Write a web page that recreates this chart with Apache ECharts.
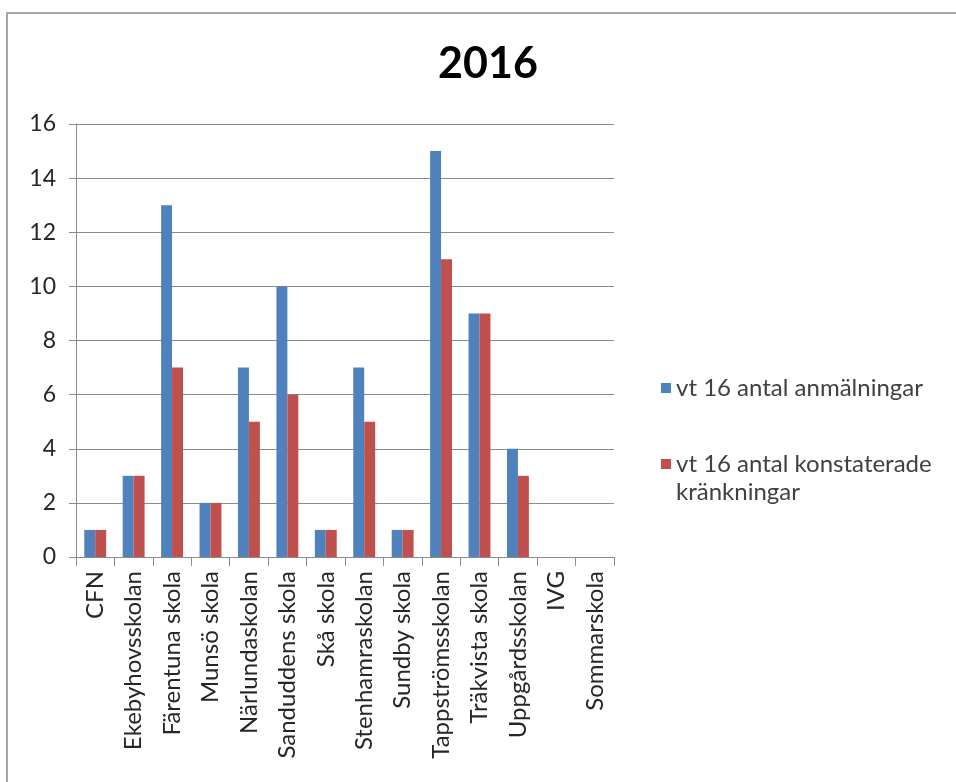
<!DOCTYPE html>
<html>
<head>
<meta charset="utf-8">
<script src="https://cdn.jsdelivr.net/npm/echarts@6/dist/echarts.min.js"></script>
<style>
html,body{margin:0;padding:0;background:#fff;overflow:hidden;width:956px;height:782px;}
#frame{position:absolute;left:6px;top:12px;right:-20px;bottom:-20px;border-left:2px solid #a8a8a8;border-top:2px solid #a8a8a8;}
#chart{position:absolute;left:0;top:0;width:956px;height:782px;}
</style>
</head>
<body>
<div id="frame"></div>
<div id="chart"></div>
<script>
const categories = ['CFN','Ekebyhovsskolan','Färentuna skola','Munsö skola','Närlundaskolan','Sanduddens skola','Skå skola','Stenhamraskolan','Sundby skola','Tappströmsskolan','Träkvista skola','Uppgårdsskolan','IVG','Sommarskola'];
const seriesNames = ['vt 16 antal anmälningar','vt 16 antal konstaterade kränkningar'];
const anmalningar = [1,3,13,2,7,10,1,7,1,15,9,4,null,null];
const konstaterade = [1,3,7,2,5,6,1,5,1,11,9,3,null,null];
const yTicks = {min:0, max:16, interval:2};

const FONT = 'Lato';
const chart = echarts.init(document.getElementById('chart'));
chart.setOption({
  animation:false,
  textStyle:{fontFamily:FONT},
  title:{text:'2016', left:483, top:38, textAlign:'center',
    textStyle:{fontFamily:FONT, fontSize:43, fontWeight:'bold', color:'#000'}},
  legend:{
    orient:'vertical', left:656, top:369, itemWidth:10, itemHeight:10, itemGap:20,
    icon:'rect',
    data:seriesNames,
    formatter:function(n){ return n===seriesNames[1] ? ' \nvt 16 antal konstaterade\nkränkningar' : n; },
    textStyle:{fontFamily:FONT, fontSize:24, color:'#404040', lineHeight:28}
  },
  grid:{left:76, right:342, top:124, bottom:225, containLabel:false},
  xAxis:{
    type:'category', data:categories,
    axisLine:{lineStyle:{color:'#8c8c8c', width:1}},
    axisTick:{show:true, length:9, lineStyle:{color:'#8c8c8c'}},
    axisLabel:{rotate:90, fontFamily:FONT, fontSize:24, color:'#262626', margin:14, interval:0}
  },
  yAxis:{
    type:'value', min:yTicks.min, max:yTicks.max, interval:yTicks.interval,
    axisLine:{show:true, lineStyle:{color:'#8c8c8c', width:1}},
    axisTick:{show:true, length:7, lineStyle:{color:'#8c8c8c'}},
    splitLine:{lineStyle:{color:'#8c8c8c', width:1}},
    axisLabel:{fontFamily:FONT, fontSize:23, color:'#262626', margin:20}
  },
  series:[
    {name:seriesNames[0], type:'bar', data:anmalningar, itemStyle:{color:'#4f81bd'}, barGap:'0%', barCategoryGap:'43%'},
    {name:seriesNames[1], type:'bar', data:konstaterade, itemStyle:{color:'#c0504d'}, barGap:'0%', barCategoryGap:'43%'}
  ]
});
</script>
</body>
</html>
